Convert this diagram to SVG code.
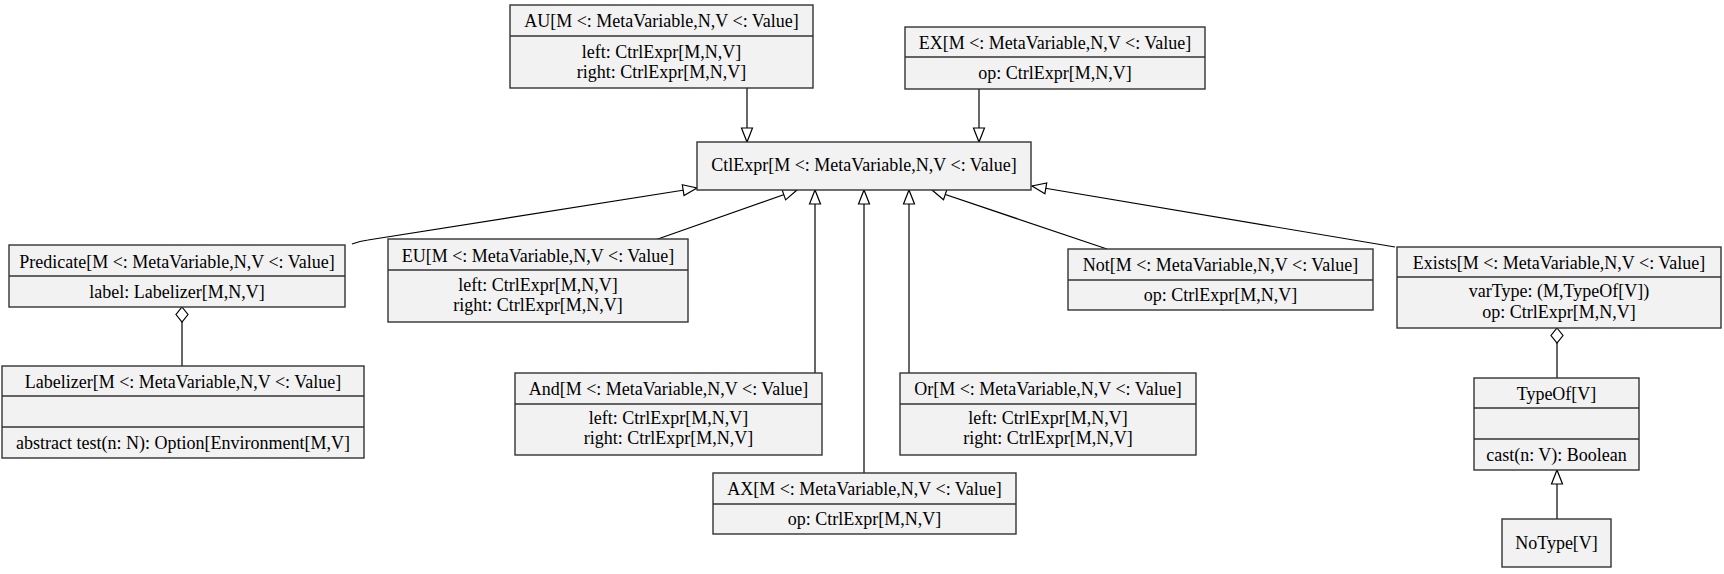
<svg xmlns="http://www.w3.org/2000/svg" width="1724" height="574" viewBox="0 0 1724 574">
<style>
.box{fill:#f2f2f2;stroke:#333;stroke-width:1.4}
.div{stroke:#333;stroke-width:1.4;fill:none}
text{font-family:"Liberation Serif","Times New Roman",serif;font-size:18px;fill:#000;text-anchor:middle}
.edge{stroke:#000;stroke-width:1.2;fill:none}
.gen{marker-end:url(#tri)}
.agg{marker-start:url(#dia)}
</style>
<defs>
<marker id="tri" markerUnits="userSpaceOnUse" markerWidth="16" markerHeight="12" refX="14" refY="5.5" orient="auto" overflow="visible">
<path d="M0,0 L14,5.5 L0,11 Z" fill="#fff" stroke="#000" stroke-width="1.2"/>
</marker>
<marker id="dia" markerUnits="userSpaceOnUse" markerWidth="16" markerHeight="14" refX="0" refY="6" orient="auto" overflow="visible">
<path d="M0,6 L7.5,0 L15,6 L7.5,12 Z" fill="#fff" stroke="#000" stroke-width="1.2"/>
</marker>
</defs>
<rect width="1724" height="574" fill="#fff"/>
<g id="connectors">
<path class="edge gen" d="M747,88 L747,142"/>
<path class="edge gen" d="M979,89 L979,142"/>
<path class="edge gen" d="M352,244 Q360,241 368,240 L697,188"/>
<path class="edge gen" d="M655,240 L797,190"/>
<path class="edge gen" d="M815,373 L815,190"/>
<path class="edge gen" d="M864,473 L864,190"/>
<path class="edge gen" d="M909,373 L909,190"/>
<path class="edge gen" d="M1107,249 L932,190"/>
<path class="edge gen" d="M1395,247 L1032,186"/>
<path class="edge agg" d="M182,307 L182,366"/>
<path class="edge agg" d="M1557,328 L1557,378"/>
<path class="edge gen" d="M1557,519 L1557,470"/>
</g>
<g id="AU">
<rect class="box" x="510" y="5" width="303" height="83"/>
<line class="div" x1="510" y1="36" x2="813" y2="36"/>
<text x="661.5" y="27">AU[M &lt;: MetaVariable,N,V &lt;: Value]</text>
<text x="661.5" y="58">left: CtrlExpr[M,N,V]</text>
<text x="661.5" y="78">right: CtrlExpr[M,N,V]</text>
</g>
<g id="EX">
<rect class="box" x="905" y="27" width="300" height="62"/>
<line class="div" x1="905" y1="57" x2="1205" y2="57"/>
<text x="1055" y="49">EX[M &lt;: MetaVariable,N,V &lt;: Value]</text>
<text x="1055" y="79">op: CtrlExpr[M,N,V]</text>
</g>
<g id="CtlExpr">
<rect class="box" x="697" y="142" width="334" height="48"/>
<text x="864" y="171">CtlExpr[M &lt;: MetaVariable,N,V &lt;: Value]</text>
</g>
<g id="Predicate">
<rect class="box" x="9" y="245" width="336" height="62"/>
<line class="div" x1="9" y1="276" x2="345" y2="276"/>
<text x="177" y="268">Predicate[M &lt;: MetaVariable,N,V &lt;: Value]</text>
<text x="177" y="298">label: Labelizer[M,N,V]</text>
</g>
<g id="Labelizer">
<rect class="box" x="2" y="366" width="362" height="92"/>
<line class="div" x1="2" y1="396" x2="364" y2="396"/>
<line class="div" x1="2" y1="427" x2="364" y2="427"/>
<text x="183" y="388">Labelizer[M &lt;: MetaVariable,N,V &lt;: Value]</text>
<text x="183" y="449">abstract test(n: N): Option[Environment[M,V]</text>
</g>
<g id="EU">
<rect class="box" x="388" y="239" width="300" height="83"/>
<line class="div" x1="388" y1="270" x2="688" y2="270"/>
<text x="538" y="262">EU[M &lt;: MetaVariable,N,V &lt;: Value]</text>
<text x="538" y="291">left: CtrlExpr[M,N,V]</text>
<text x="538" y="311">right: CtrlExpr[M,N,V]</text>
</g>
<g id="Not">
<rect class="box" x="1068" y="249" width="305" height="61"/>
<line class="div" x1="1068" y1="280" x2="1373" y2="280"/>
<text x="1220.5" y="271">Not[M &lt;: MetaVariable,N,V &lt;: Value]</text>
<text x="1220.5" y="301">op: CtrlExpr[M,N,V]</text>
</g>
<g id="Exists">
<rect class="box" x="1397" y="247" width="324" height="81"/>
<line class="div" x1="1397" y1="277" x2="1721" y2="277"/>
<text x="1559" y="269">Exists[M &lt;: MetaVariable,N,V &lt;: Value]</text>
<text x="1559" y="297">varType: (M,TypeOf[V])</text>
<text x="1559" y="318">op: CtrlExpr[M,N,V]</text>
</g>
<g id="TypeOf">
<rect class="box" x="1474" y="378" width="165" height="92"/>
<line class="div" x1="1474" y1="408" x2="1639" y2="408"/>
<line class="div" x1="1474" y1="439" x2="1639" y2="439"/>
<text x="1556.5" y="400">TypeOf[V]</text>
<text x="1556.5" y="461">cast(n: V): Boolean</text>
</g>
<g id="NoType">
<rect class="box" x="1502" y="519" width="109" height="48"/>
<text x="1556.5" y="549">NoType[V]</text>
</g>
<g id="And">
<rect class="box" x="515" y="373" width="307" height="82"/>
<line class="div" x1="515" y1="404" x2="822" y2="404"/>
<text x="668.5" y="395">And[M &lt;: MetaVariable,N,V &lt;: Value]</text>
<text x="668.5" y="424">left: CtrlExpr[M,N,V]</text>
<text x="668.5" y="444">right: CtrlExpr[M,N,V]</text>
</g>
<g id="Or">
<rect class="box" x="900" y="373" width="296" height="82"/>
<line class="div" x1="900" y1="404" x2="1196" y2="404"/>
<text x="1048" y="395">Or[M &lt;: MetaVariable,N,V &lt;: Value]</text>
<text x="1048" y="424">left: CtrlExpr[M,N,V]</text>
<text x="1048" y="444">right: CtrlExpr[M,N,V]</text>
</g>
<g id="AX">
<rect class="box" x="713" y="473" width="303" height="61"/>
<line class="div" x1="713" y1="504" x2="1016" y2="504"/>
<text x="864.5" y="495">AX[M &lt;: MetaVariable,N,V &lt;: Value]</text>
<text x="864.5" y="525">op: CtrlExpr[M,N,V]</text>
</g>
</svg>
